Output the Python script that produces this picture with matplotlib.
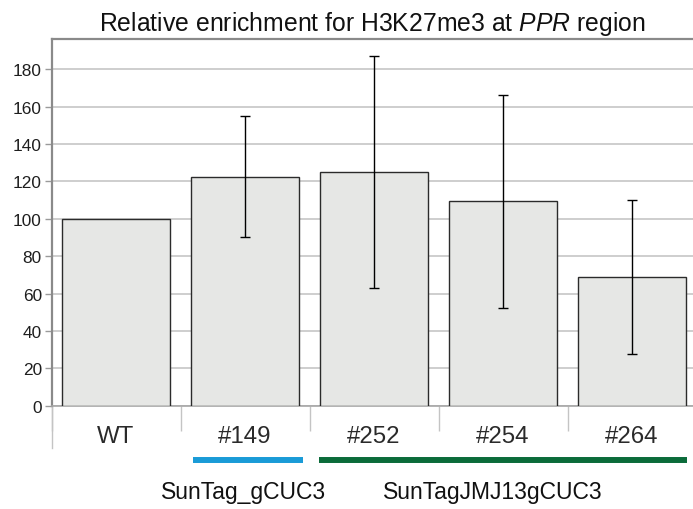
import matplotlib
matplotlib.use("Agg")
import matplotlib.pyplot as plt
import numpy as np

plt.rcParams['font.family'] = ['Liberation Sans', 'DejaVu Sans']
plt.rcParams['mathtext.fontset'] = 'custom'
plt.rcParams['mathtext.rm'] = 'Liberation Sans'
plt.rcParams['mathtext.it'] = 'Liberation Sans:italic'

# data (WT has no error bar)
labels = ["WT", "#149", "#252", "#254", "#264"]
values = [100, 122.5, 125.2, 109.3, 69.0]
errors = [np.nan, 32.3, 62.0, 57.0, 41.3]

# line groups below the category labels
group_names = ["SunTag_gCUC3", "SunTagJMJ13gCUC3"]
group_spans = [(0.6, 1.45), (1.57, 4.43)]
group_centers = [0.985, 2.92]
group_colors = ["#1a9bd7", "#0b6b3a"]

W, H = 693, 510
fig = plt.figure(figsize=(W / 100, H / 100), dpi=100)

# axes placed in pixels (right edge runs past the image, as in the reference)
left, right, top, zero = 51.5, 696.5, 39.5, 406.7
ax = fig.add_axes([left / W, (H - zero) / H, (right - left) / W, (zero - top) / H])
ax_h = zero - top

x = np.arange(len(labels))
ax.bar(x, values, width=0.83, color="#e6e7e5", edgecolor="#2b2b2b",
       linewidth=1.0, zorder=3)
has_err = ~np.isnan(errors)
ax.errorbar(x[has_err], np.array(values)[has_err], yerr=np.array(errors)[has_err],
            fmt="none", ecolor="black", elinewidth=1.0, capsize=3.8,
            capthick=1.0, zorder=4)

ax.set_xlim(-0.5, len(labels) - 0.5)
ax.set_ylim(0, 196.5)
ax.set_yticks(np.arange(0, 181, 20))
ax.yaxis.grid(True, color="#c6c6c6", linewidth=1.2, zorder=0)
ax.set_axisbelow(True)

for side in ["left", "top", "right"]:
    ax.spines[side].set_color("#8a8a8a")
    ax.spines[side].set_linewidth(1.6)
ax.spines["bottom"].set_color("#a6a6a6")
ax.spines["bottom"].set_linewidth(1.2)

ax.tick_params(axis="y", length=5, width=1, color="#9a9a9a", pad=2,
               labelsize=12.4, labelcolor="#1e1e1e")

# category labels
ax.set_xticks(x)
ax.set_xticklabels(labels, fontsize=17.3, color="#2a2a2a")
ax.tick_params(axis="x", which="major", length=0, pad=26.4)
for lbl in ax.get_xticklabels():
    lbl.set_verticalalignment("baseline")

# category separators
ax.set_xticks(np.arange(-0.5, len(labels)), minor=True)
ax.tick_params(axis="x", which="minor", length=18, width=1, color="#c4c4c4")
ax.plot([-0.5, -0.5], [0, -42 / ax_h], transform=ax.get_xaxis_transform(),
        color="#c4c4c4", linewidth=1, clip_on=False)

# group lines and names
trans = ax.get_xaxis_transform()
line_y = -(461 - zero) / ax_h
text_y = -(499.3 - zero) / ax_h
for name, (x0, x1), xc, col in zip(group_names, group_spans, group_centers, group_colors):
    ax.plot([x0, x1], [line_y, line_y], transform=trans, color=col,
            linewidth=4.3, solid_capstyle="butt", clip_on=False)
    ax.text(xc, text_y, name, transform=trans, ha="center", va="baseline",
            fontsize=16.5, color="#111111")

fig.text((left + right) / 2 / W - 0.003, 1 - 31 / H,
         r"Relative enrichment for H3K27me3 at $\mathit{PPR}$ region",
         ha="center", va="baseline", fontsize=17.8, color="#111111")

fig.savefig("out.png", dpi=100)
